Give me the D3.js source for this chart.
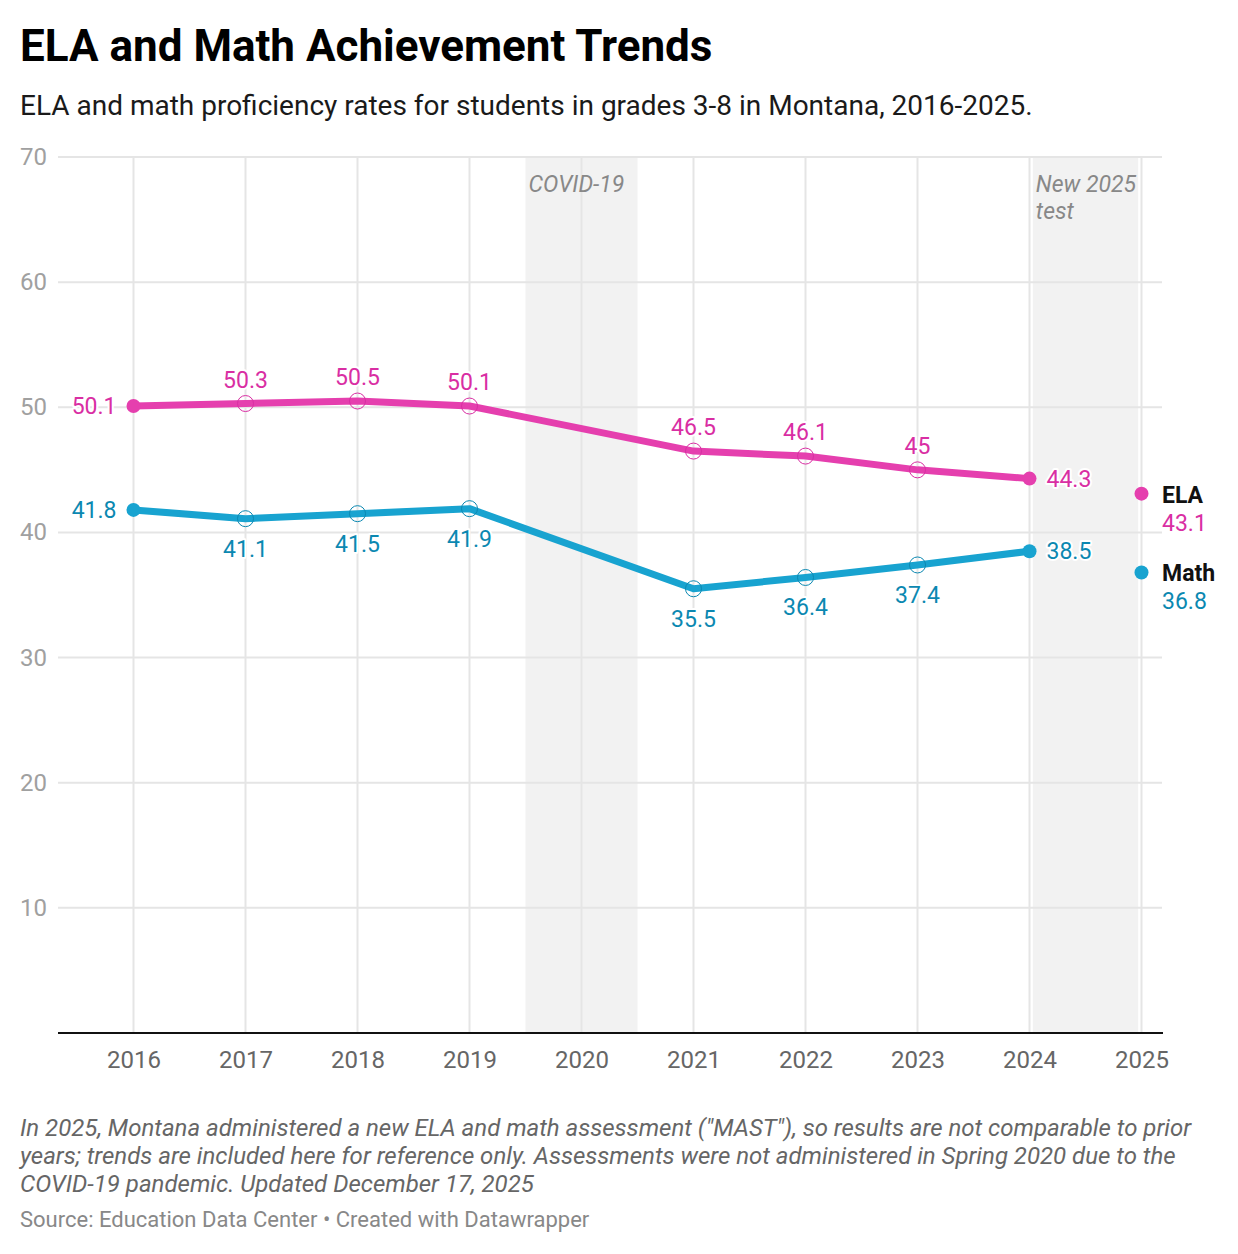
<!DOCTYPE html>
<html>
<head>
<meta charset="utf-8">
<script src="https://cdn.jsdelivr.net/npm/d3@7"></script>
<style>
  body { margin: 0; background: #fff; font-family: Roboto, "Noto Sans", sans-serif; }
  svg text { font-family: Roboto, "Noto Sans", sans-serif; }
  .halo { paint-order: stroke; stroke: #fff; stroke-width: 4px; stroke-linejoin: round; }
</style>
</head>
<body>
<div id="chart"></div>
<script>
// data
const years = [2016, 2017, 2018, 2019, 2020, 2021, 2022, 2023, 2024, 2025];
const trendYears = [2016, 2017, 2018, 2019, 2021, 2022, 2023, 2024];
const elaValues = [50.1, 50.3, 50.5, 50.1, 46.5, 46.1, 45, 44.3];
const mathValues = [41.8, 41.1, 41.5, 41.9, 35.5, 36.4, 37.4, 38.5];
const newTestYear = 2025;
const elaNew = 43.1;
const mathNew = 36.8;
const yTicks = [10, 20, 30, 40, 50, 60, 70];
const bands = [
  { from: 2019.5, to: 2020.5, label: ['COVID-19'] },
  { from: 2024.03, to: 2024.97, label: ['New 2025', 'test'] }
];

const width = 1238, height = 1254;
const margin = { top: 157, left: 58, right: 76, bottom: 221 };

const svg = d3.select('#chart').append('svg')
  .attr('width', width)
  .attr('height', height);

const x = d3.scaleLinear()
  .domain([2016, 2025])
  .range([133.5, 1141.5]);

const y = d3.scaleLinear()
  .domain([0, 70])
  .range([height - margin.bottom, margin.top]);

const plotRight = width - margin.right;

// header
svg.append('text')
  .attr('x', 20).attr('y', 61)
  .attr('font-size', 44).attr('font-weight', 700).attr('fill', '#000')
  .text('ELA and Math Achievement Trends');

svg.append('text')
  .attr('x', 20).attr('y', 115)
  .attr('font-size', 28).attr('fill', '#1a1a1a')
  .text('ELA and math proficiency rates for students in grades 3-8 in Montana, 2016-2025.');

// shaded ranges
svg.append('g').selectAll('rect')
  .data(bands)
  .join('rect')
  .attr('x', d => x(d.from))
  .attr('width', d => x(d.to) - x(d.from))
  .attr('y', y(70))
  .attr('height', y(0) - y(70))
  .attr('fill', '#f2f2f2');

// grid
svg.append('g').selectAll('line')
  .data(yTicks)
  .join('line')
  .attr('x1', margin.left).attr('x2', plotRight)
  .attr('y1', d => y(d)).attr('y2', d => y(d))
  .attr('stroke', '#e5e5e5').attr('stroke-width', 2);

svg.append('g').selectAll('line')
  .data(years)
  .join('line')
  .attr('x1', d => x(d)).attr('x2', d => x(d))
  .attr('y1', y(70)).attr('y2', y(0))
  .attr('stroke', '#e5e5e5').attr('stroke-width', 2);

// y tick labels
svg.append('g').selectAll('text')
  .data(yTicks)
  .join('text')
  .attr('x', 20)
  .attr('y', d => y(d) + 8)
  .attr('font-size', 24).attr('fill', '#a0a0a0')
  .text(d => d);

// x axis
const xAxis = svg.append('g')
  .attr('transform', `translate(0,${y(0)})`)
  .call(d3.axisBottom(x).tickValues(years).tickFormat(d3.format('d')).tickSize(0).tickPadding(18));
xAxis.select('.domain').remove();
xAxis.selectAll('text')
  .attr('font-size', 24).attr('fill', '#666')
  .attr('font-family', 'Roboto, sans-serif');
svg.append('line')
  .attr('x1', margin.left).attr('x2', plotRight + 1)
  .attr('y1', y(0)).attr('y2', y(0))
  .attr('stroke', '#111').attr('stroke-width', 2);

// band annotations
bands.forEach(b => {
  const t = svg.append('text')
    .attr('x', x(b.from) + 3)
    .attr('y', y(70) + 35)
    .attr('font-size', 23).attr('font-style', 'italic').attr('fill', '#888');
  b.label.forEach((line, i) => {
    t.append('tspan').attr('x', x(b.from) + 3).attr('dy', i === 0 ? 0 : 27).text(line);
  });
});

// series
const series = [
  { name: 'ELA', values: elaValues, latest: elaNew, color: '#e53fae', text: '#d92ea3', pos: 'above' },
  { name: 'Math', values: mathValues, latest: mathNew, color: '#18a3d0', text: '#0b88b1', pos: 'below' }
];

const line = d3.line()
  .x(d => x(d.year))
  .y(d => y(d.value));

series.forEach(s => {
  const pts = trendYears.map((yr, i) => ({ year: yr, value: s.values[i] }));
  const g = svg.append('g');

  g.append('path')
    .datum(pts)
    .attr('d', line)
    .attr('fill', 'none')
    .attr('stroke', s.color)
    .attr('stroke-width', 7)
    .attr('stroke-linejoin', 'round');

  // hollow markers for the middle years
  g.selectAll('circle.mid')
    .data(pts.slice(1, -1))
    .join('circle')
    .attr('class', 'mid')
    .attr('cx', d => x(d.year)).attr('cy', d => y(d.value))
    .attr('r', 8)
    .attr('fill', 'none')
    .attr('stroke', s.text).attr('stroke-width', 1);

  // filled end markers
  g.selectAll('circle.end')
    .data([pts[0], pts[pts.length - 1]])
    .join('circle')
    .attr('class', 'end')
    .attr('cx', d => x(d.year)).attr('cy', d => y(d.value))
    .attr('r', 7)
    .attr('fill', s.color);

  // value labels
  const last = pts.length - 1;
  g.selectAll('text.val')
    .data(pts)
    .join('text')
    .attr('class', 'val halo')
    .attr('font-size', 23)
    .attr('fill', s.text)
    .attr('text-anchor', (d, i) => i === 0 ? 'end' : (i === last ? 'start' : 'middle'))
    .attr('x', (d, i) => i === 0 ? x(d.year) - 17 : (i === last ? x(d.year) + 17 : x(d.year)))
    .attr('y', (d, i) => {
      if (i === 0 || i === last) return y(d.value) + 8;
      return s.pos === 'above' ? y(d.value) - 16 : y(d.value) + 38;
    })
    .text(d => d.value);

  // 2025 point and legend label
  g.append('circle')
    .attr('cx', x(newTestYear)).attr('cy', y(s.latest))
    .attr('r', 7)
    .attr('fill', s.color);

  g.append('text')
    .attr('x', 1162).attr('y', y(s.latest) + 9)
    .attr('font-size', 23).attr('font-weight', 700).attr('fill', '#111')
    .text(s.name);

  g.append('text')
    .attr('x', 1162).attr('y', y(s.latest) + 37)
    .attr('font-size', 23).attr('fill', s.text)
    .text(s.latest);
});

// notes
const notes = [
  'In 2025, Montana administered a new ELA and math assessment ("MAST"), so results are not comparable to prior',
  'years; trends are included here for reference only. Assessments were not administered in Spring 2020 due to the',
  'COVID-19 pandemic. Updated December 17, 2025'
];
svg.append('g').selectAll('text')
  .data(notes)
  .join('text')
  .attr('x', 20)
  .attr('y', (d, i) => 1136 + i * 28)
  .attr('font-size', 24).attr('font-style', 'italic').attr('fill', '#666')
  .text(d => d);

svg.append('text')
  .attr('x', 20).attr('y', 1227)
  .attr('font-size', 22).attr('fill', '#888')
  .text('Source: Education Data Center • Created with Datawrapper');
</script>
</body>
</html>
